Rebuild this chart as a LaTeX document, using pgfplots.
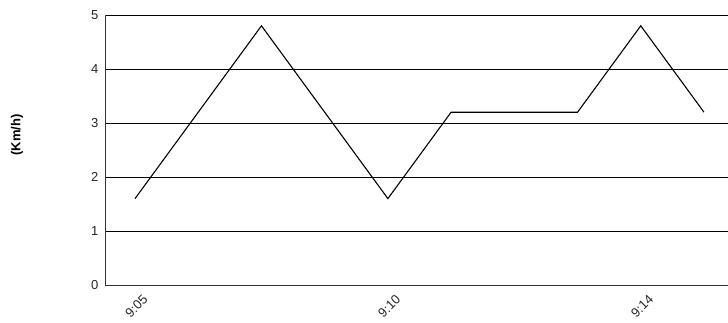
\documentclass[border=0pt]{standalone}
\usepackage{pgfplots}
\pgfplotsset{compat=1.18}
\usepackage{fontspec}
\setmainfont{Liberation Sans}
\begin{document}
\begin{tikzpicture}[x=1pt,y=1pt]
\path[use as bounding box] (-105,-37) rectangle (623,285);
\begin{axis}[
  at={(0,0)}, anchor=south west,
  scale only axis, width=623pt, height=270pt,
  xmin=-0.475, xmax=9.38, ymin=0, ymax=5,
  axis lines*=left,
  axis line style={line width=1pt, color=black!80},
  ymajorgrids, grid style={line width=0.8pt, black},
  ytick={0,1,2,3,4,5},
  xtick={0,4,8},
  xticklabels={9:05,9:10,9:14},
  major tick length=0pt,
  tick label style={color=black!85},
  x tick label style={font=\fontsize{13}{15}\selectfont, xshift=7pt, yshift=-4pt, rotate=45, anchor=north east},
  y tick label style={font=\fontsize{13}{15}\selectfont, xshift=-3pt},
  /pgf/number format/assume math mode=true,
  clip=false,
]
\addplot[black, line width=1.1pt, line join=miter] coordinates {
  (0,1.6) (2,4.8) (4,1.6) (5,3.2) (7,3.2) (8,4.8) (9,3.2)
};
\end{axis}
\node[rotate=90, font=\bfseries\fontsize{13}{15}\selectfont] at (-88,150) {(Km/h)};
\end{tikzpicture}
\end{document}
